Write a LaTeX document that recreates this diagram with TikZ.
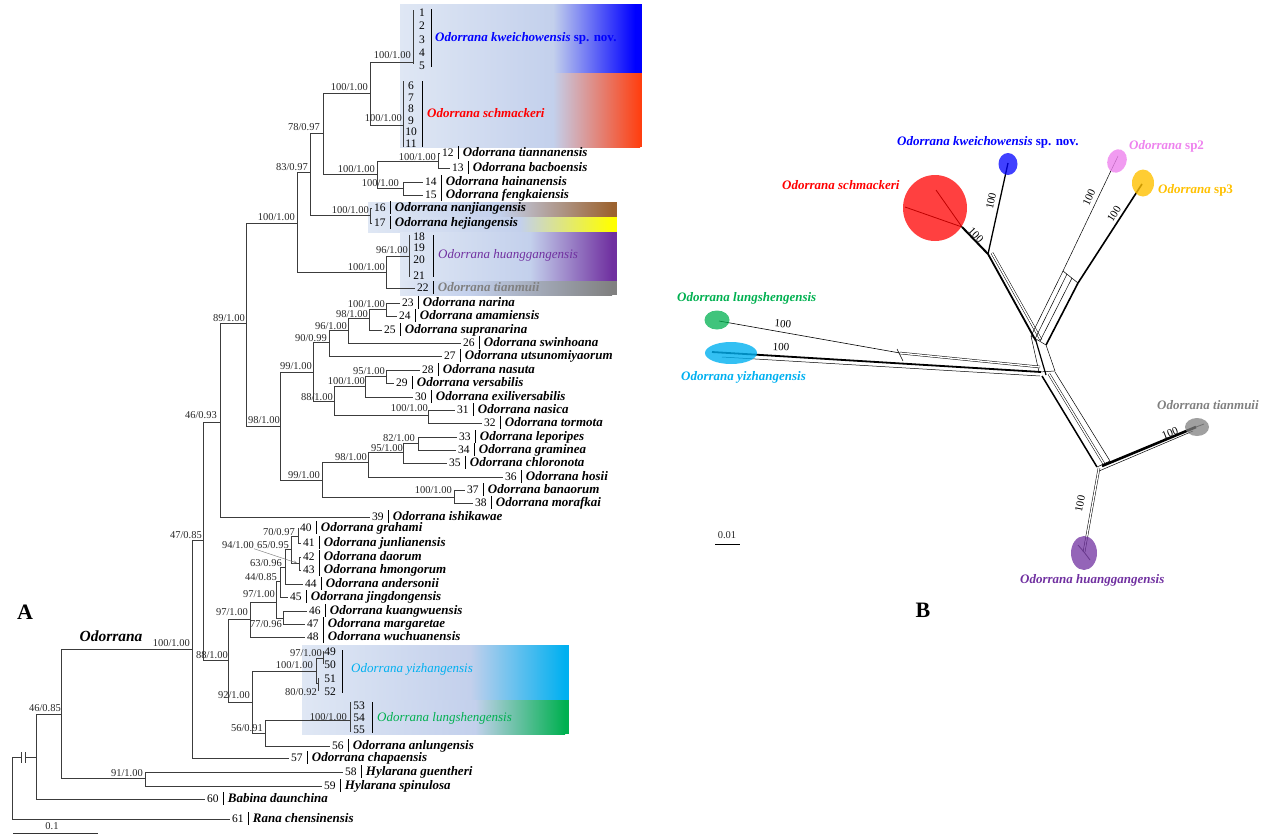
\documentclass[tikz,border=0pt]{standalone}
\usepackage{fontspec}
\setmainfont{Liberation Serif}
\usetikzlibrary{calc}

\definecolor{boxl}{HTML}{DFE7F4}
\definecolor{boxm}{HTML}{C3D0EC}
\definecolor{kwblue}{HTML}{0000FF}
\definecolor{scred}{HTML}{FF3F10}
\definecolor{njbrown}{HTML}{9C6330}
\definecolor{hjyellow}{HTML}{FFFF00}
\definecolor{hgpurple}{HTML}{7030A0}
\definecolor{tmgray}{HTML}{808080}
\definecolor{yzblue}{HTML}{00B0F0}
\definecolor{lsgreen}{HTML}{00B050}
\definecolor{sptwo}{HTML}{EE82EE}
\definecolor{spthree}{HTML}{FFC000}
\definecolor{twigcol}{HTML}{3C3C3C}

\tikzset{
  twig/.style={draw=twigcol, line width=0.8pt},
  boot/.style={anchor=east, inner sep=0pt, text height=7pt, text depth=0pt,
    font=\fontsize{10.5}{12}\selectfont, text=black!85},
  leaf/.style={anchor=west, inner xsep=2pt, inner ysep=0pt, text height=9pt, text depth=3pt},
  tipno/.style={inner sep=0pt, text height=8pt, text depth=0pt, font=\fontsize{11.5}{12}\selectfont},
  clade/.style={anchor=west, inner sep=0pt, text height=9pt, text depth=3pt,
    font=\fontsize{13}{14}\selectfont\bfseries\itshape},
  hund/.style={inner sep=0pt, font=\fontsize{11}{12}\selectfont},
  panel/.style={font=\fontsize{22}{22}\selectfont\bfseries}
}
\newcommand{\tipname}[2]{{\fontsize{11.5}{12}\selectfont #1}\hspace{4pt}\rule[-2.5pt]{0.7pt}{12.5pt}\hspace{4.5pt}{\fontsize{13}{14}\selectfont\bfseries\itshape #2}}

\begin{document}
\begin{tikzpicture}[x=1pt, y=-1pt]
  \useasboundingbox (0,0) rectangle (1269,839);

  % clade boxes: x0/xm/xe/x1/y0/y1/colour
  \foreach \xa/\xb/\xc/\xd/\ya/\yb/\col in {
    400/553/635/642/4/73/kwblue, 400/553/640/642/73/147/scred,
    368/500/612/617/202/217/njbrown, 368/520/612/617/217/232/hjyellow,
    400/530/612/617/232/281/hgpurple, 400/470/612/617/281/295/tmgray,
    302/470/565/569/645/700/yzblue, 302/475/565/569/700/734/lsgreen}{
    \shade[left color=boxl, right color=boxm] (\xa,\ya) rectangle (\xb,\yb);
    \shade[left color=boxm, right color=\col] (\xb,\ya) rectangle (\xc,\yb);
    \fill[\col] (\xc,\ya) rectangle (\xd,\yb);
  }

  % internal nodes
  \foreach \n/\x/\y in {root/12/788, nBB/36/757, nZ/61/714, nAA/145/778, nX1/192/649,
    nX2/203/540, nW/220/422, nG/246/323, nA/297/223, nB/310/172, nD/323/133, nE/370/93,
    nF/377/174, n1213/438/161, n1415/403/188, n1617/370/215, nC/386/272, nH/280/426,
    nI/313/372, nK/329/342, nM/348/330, nN/369/318, nO/386/309, nL/334/401, nP/365/386,
    nR/386/376, nQ/428/415, nJ/322/480, nS/368/462, nU/403/452, nV/418/443, nT/454/497,
    nY/228/660, nCC/250/619, nEE/276/602, nFF/280/581, nGG/283/618, nHH/285/567,
    nII/291/549, nJJ/298/536, nKK/299/563, nDD/252/702, nLL/316/671, nNN/323/658,
    nOO/318/683, nMM/265/733, c15/413/62, c611/403/125, c1821/409/256, c5355/350/720}
    \coordinate (\n) at (\x,\y);

  \foreach \p/\c in {root/nBB, nBB/nZ, nZ/nX1, nZ/nAA, nX1/nX2, nX2/nW, nX2/nY, nW/nG,
    nG/nA, nG/nH, nA/nB, nA/nC, nB/nD, nB/n1617, nD/nE, nD/nF, nE/c15, nE/c611,
    nF/n1213, nF/n1415, nC/c1821, nH/nI, nH/nJ, nI/nK, nI/nL, nK/nM, nM/nN, nN/nO,
    nL/nP, nL/nQ, nP/nR, nJ/nS, nJ/nT, nS/nU, nU/nV, nY/nCC, nY/nDD, nCC/nEE,
    nEE/nFF, nEE/nGG, nFF/nHH, nHH/nII, nII/nJJ, nII/nKK, nDD/nLL, nDD/nMM,
    nLL/nNN, nLL/nOO, nMM/c5355}
    \draw[twig] (\p) |- (\c);

  % root break
  \fill[white] (21,752) rectangle (25,763);
  \draw[twig] (21,752) -- (21,763) (25,752) -- (25,763);

  % collapsed clades
  \draw[twig] (413,10) -- (413,64);
  \draw[twig] (403,81) -- (403,147);
  \draw[twig] (409,235) -- (409,277);
  \draw[twig] (323,651) -- (323,664);
  \draw[twig] (318,678) -- (318,691);
  \draw[twig] (350,702) -- (350,732);
  \foreach \n/\x/\y in {1/422/12, 2/422/25, 3/422/39, 4/422/52, 5/422/65,
    6/411/85, 7/411/97, 8/411/108, 9/411/120, 10/411/131, 11/411/143,
    18/419/236, 19/419/247, 20/419/259, 21/419/275,
    49/330/651, 50/330/664, 51/330/678, 52/330/691, 53/359/705, 54/359/717, 55/359/729}
    \node[tipno] (t\n) at (\x,\y) {\n};
  \draw[black, line width=0.8pt] (431,9) -- (431,67) (422,81) -- (422,147)
    (433,235) -- (433,277) (342,650) -- (342,693) (372,702) -- (372,733);
  \node[clade, text=kwblue] (lkw) at (435,38) {Odorrana kweichowensis \textup{sp. nov.}};
  \node[clade, text=red] (lsc) at (427,114) {Odorrana schmackeri};
  \node[clade, text=hgpurple, font=\fontsize{13}{14}\selectfont\itshape] (lhg) at (438,255) {Odorrana huanggangensis};
  \node[clade, text=yzblue, font=\fontsize{13}{14}\selectfont\itshape] (lyz) at (351,669) {Odorrana yizhangensis};
  \node[clade, text=lsgreen, font=\fontsize{13}{14}\selectfont\itshape] (lls) at (377,718) {Odorrana lungshengensis};

  % tips
  \foreach \x/\y/\n/\p/\name in {
    440/153/12/n1213/Odorrana tiannanensis, 450/168/13/n1213/Odorrana bacboensis,
    423/182/14/n1415/Odorrana hainanensis, 423/195/15/n1415/Odorrana fengkaiensis,
    372/208/16/n1617/Odorrana nanjiangensis, 372/223/17/n1617/Odorrana hejiangensis,
    400/303/23/nO/Odorrana narina, 397/316/24/nO/Odorrana amamiensis,
    382/330/25/nN/Odorrana supranarina, 461/343/26/nM/Odorrana swinhoana,
    442/356/27/nK/Odorrana utsunomiyaorum, 420/370/28/nR/Odorrana nasuta,
    394/383/29/nR/Odorrana versabilis, 413/397/30/nP/Odorrana exiliversabilis,
    455/410/31/nQ/Odorrana nasica, 482/423/32/nQ/Odorrana tormota,
    457/437/33/nV/Odorrana leporipes, 456/450/34/nV/Odorrana graminea,
    447/463/35/nU/Odorrana chloronota, 503/477/36/nS/Odorrana hosii,
    465/490/37/nT/Odorrana banaorum, 473/503/38/nT/Odorrana morafkai,
    370/517/39/nW/Odorrana ishikawae, 298/528/40/nJJ/Odorrana grahami,
    301/543/41/nJJ/Odorrana junlianensis, 301/557/42/nKK/Odorrana daorum,
    301/570/43/nKK/Odorrana hmongorum, 303/584/44/nHH/Odorrana andersonii,
    288/597/45/nFF/Odorrana jingdongensis, 307/611/46/nGG/Odorrana kuangwuensis,
    305/624/47/nGG/Odorrana margaretae, 305/637/48/nCC/Odorrana wuchuanensis,
    330/746/56/nMM/Odorrana anlungensis, 289/758/57/nX1/Odorrana chapaensis,
    343/772/58/nAA/Hylarana guentheri, 322/786/59/nAA/Hylarana spinulosa,
    205/799/60/nBB/Babina daunchina, 230/819/61/root/Rana chensinensis}{
    \node[leaf] (t\n) at (\x,\y) {\tipname{\n}{\name}};
    \draw[twig] (\p) |- (t\n.west);
  }
  \node[leaf] (t22) at (415,288) {\tipname{22}{\textcolor{tmgray}{Odorrana tianmuii}}};
  \draw[twig] (nC) |- (t22.west);

  % support values
  \foreach \x/\y/\s [count=\i from 1] in {411/55/{100/1.00}, 368/87/{100/1.00},
    402/118/{100/1.00}, 320/127/{78/0.97}, 308/167/{83/0.97}, 375/169/{100/1.00},
    436/157/{100/1.00}, 399/183/{100/1.00}, 369/210/{100/1.00}, 295/217/{100/1.00},
    408/250/{96/1.00}, 385/267/{100/1.00}, 245/318/{89/1.00}, 385/304/{100/1.00},
    368/314/{98/1.00}, 347/326/{96/1.00}, 327/338/{90/0.99}, 312/366/{99/1.00},
    385/371/{95/1.00}, 365/381/{100/1.00}, 333/397/{88/1.00}, 428/408/{100/1.00},
    280/420/{98/1.00}, 217/415/{46/0.93}, 415/438/{82/1.00}, 403/448/{95/1.00},
    367/457/{98/1.00}, 320/475/{99/1.00}, 452/490/{100/1.00}, 202/535/{47/0.85},
    190/643/{100/1.00}, 61/708/{46/0.85}, 143/773/{91/1.00}, 295/532/{70/0.97},
    289/545/{65/0.95}, 282/563/{63/0.96}, 277/577/{44/0.85}, 275/594/{97/1.00},
    282/624/{77/0.96}, 248/612/{97/1.00}, 228/655/{88/1.00}, 250/695/{92/1.00},
    322/653/{97/1.00}, 313/665/{100/1.00}, 317/692/{80/0.92}, 347/717/{100/1.00},
    263/728/{56/0.91}}
    \node[boot] (s\i) at (\x,\y) {\s};
  \node[boot] (s94) at (254,545) {94/1.00};
  \draw[gray, line width=0.5pt, -stealth] (s94.south east) -- ($(nKK)+(-2,0)$);

  \node[font=\fontsize{15.5}{16}\selectfont\bfseries\itshape] (genus) at (111,636) {Odorrana};
  \node[panel] (pa) at (25,612) {A};
  \draw[black!80, line width=0.8pt] (13,833) coordinate (sa) -- (98,833) coordinate (sb);
  \node[boot, anchor=center] (sl) at (52,826) {0.1};

  % network
  \coordinate (rb) at (988,254);
  \coordinate (rt) at (962,227);
  \coordinate (bt) at (1008,163);
  \coordinate (c1) at (1036,341);
  \coordinate (c2) at (1046,375);
  \coordinate (s2) at (1063,271);
  \coordinate (s3) at (1078,283);
  \coordinate (p2) at (1118,156);
  \coordinate (p3) at (1142,184);
  \coordinate (ll) at (900,353);
  \coordinate (gt) at (719,321);
  \coordinate (yt) at (712,352);
  \coordinate (tt) at (1102,466);
  \coordinate (gm) at (1196,427);
  \coordinate (hg) at (1084,552);

  \draw[line width=1.3pt] (rb) -- (bt);
  \draw[line width=2pt] (rb) -- (rt);
  \draw[line width=0.8pt] (rt) -- (936,190) (rt) -- (905,207);
  \draw[line width=1.8pt] (rb) -- (c1);
  \draw[double, double distance=1.6pt, line width=0.5pt] ($(rb)+(4,-1)$) -- ($(c1)+(5,-1)$);
  \draw[line width=0.5pt] (s2) -- (p2);
  \draw[line width=1.6pt] (s3) -- (p3);
  \draw[line width=0.5pt] (s2) -- (1031,336) (1067,274) -- (1035,339) (1072,278) -- (1040,341);
  \draw[line width=1.6pt] (s3) -- (1046,345);
  \draw[line width=0.5pt] (s2) -- (s3) (1031,336) -- (1046,345);
  \draw[line width=0.5pt] (1031,336) -- (1039,372) (1046,345) -- (1055,371) (1039,372) -- (1055,371);
  \draw[line width=1.2pt] (c1) -- (c2);
  \draw[line width=0.6pt] (gt) -- (ll);
  \draw[double, double distance=1.4pt, line width=0.5pt] (ll) -- (1040,367);
  \draw[line width=1.8pt] (yt) -- (1041,372);
  \draw[line width=0.5pt] (722,357) -- (1040,376) (897,349) -- (903,361);
  \draw[line width=1.5pt] (1042,376) -- (1097,467);
  \draw[double, double distance=1.5pt, line width=0.5pt] (1049,374) -- (1104,464);
  \draw[line width=0.5pt] (1055,372) -- (1110,461) (1097,467) -- (1110,461);
  \draw[line width=2.6pt] (tt) -- (gm);
  \draw[line width=0.5pt] (1099,471) -- (1193,431);
  \draw[double, double distance=1.4pt, line width=0.5pt] (1099,468) -- (hg);
  \draw[black!70, line width=0.8pt] (hg) -- (1078,545) (hg) -- (1090,560) (gm) -- (1204,424);

  \fill[red, opacity=.75] (935,208) ellipse [x radius=32, y radius=33];
  \fill[kwblue, opacity=.75] (1008,164) ellipse [x radius=9.5, y radius=11];
  \fill[sptwo, opacity=.8, rotate around={-20:(1117,161)}] (1117,161) ellipse [x radius=9.5, y radius=12];
  \fill[spthree, opacity=.8] (1143,183) ellipse [x radius=11, y radius=13.5];
  \fill[tmgray, opacity=.75] (1197,427) ellipse [x radius=12, y radius=9];
  \fill[hgpurple, opacity=.75] (1084,553) ellipse [x radius=13, y radius=17];
  \fill[lsgreen, opacity=.75] (717,320) ellipse [x radius=12.5, y radius=9.5];
  \fill[yzblue, opacity=.8] (731,353) ellipse [x radius=26, y radius=11];

  \node[clade, text=kwblue] (nkw) at (897,142) {Odorrana kweichowensis \textup{sp. nov.}};
  \node[clade, text=red] (nsc) at (782,186) {Odorrana schmackeri};
  \node[clade, text=sptwo] (ns2) at (1129,146) {Odorrana \textup{sp2}};
  \node[clade, text=spthree] (ns3) at (1158,190) {Odorrana \textup{sp3}};
  \node[clade, text=lsgreen] (nls) at (677,298) {Odorrana lungshengensis};
  \node[clade, text=yzblue] (nyz) at (681,377) {Odorrana yizhangensis};
  \node[clade, text=tmgray] (ntm) at (1157,406) {Odorrana tianmuii};
  \node[clade, text=hgpurple] (nhg) at (1020,580) {Odorrana huanggangensis};

  \node[hund, rotate=-5] (h1) at (783,324) {100};
  \node[hund, rotate=-3] (h2) at (781,347) {100};
  \node[hund, rotate=-47] (h3) at (976,235) {100};
  \node[hund, rotate=78] (h4) at (991,201) {100};
  \node[hund, rotate=65] (h5) at (1089,197) {100};
  \node[hund, rotate=58] (h6) at (1114,214) {100};
  \node[hund, rotate=22] (h7) at (1170,433) {100};
  \node[hund, rotate=79] (h8) at (1080,504) {100};

  \draw[line width=0.8pt] (715,544) coordinate (ba) -- (740,544) coordinate (bb);
  \node[boot, anchor=center] (bl) at (727,535) {0.01};
  \node[panel] (pb) at (923,610) {B};
\end{tikzpicture}
\end{document}
